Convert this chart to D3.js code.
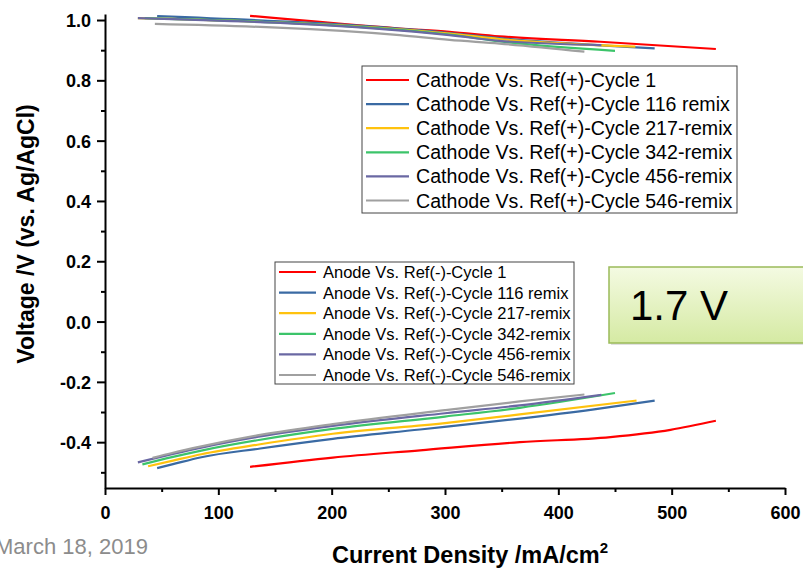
<!DOCTYPE html>
<html>
<head>
<meta charset="utf-8">
<script src="https://cdn.jsdelivr.net/npm/d3@7"></script>
<style>
  body { margin: 0; background: #fff; }
  svg { display: block; font-family: Arial, "Liberation Sans", sans-serif; }
</style>
</head>
<body>
<div id="chart"></div>
<script>
const width = 803, height = 569;

// series names / colours
const cycles = ["1", "116", "217", "342", "456", "546"];
const seriesColors = ["#ff0000", "#3a6aa3", "#ffc20e", "#3cc46a", "#6a68a3", "#a0a0a0"];
const cathodeNames = [
  "Cathode Vs. Ref(+)-Cycle 1",
  "Cathode Vs. Ref(+)-Cycle 116 remix",
  "Cathode Vs. Ref(+)-Cycle 217-remix",
  "Cathode Vs. Ref(+)-Cycle 342-remix",
  "Cathode Vs. Ref(+)-Cycle 456-remix",
  "Cathode Vs. Ref(+)-Cycle 546-remix"
];
const anodeNames = [
  "Anode Vs. Ref(-)-Cycle 1",
  "Anode Vs. Ref(-)-Cycle 116 remix",
  "Anode Vs. Ref(-)-Cycle 217-remix",
  "Anode Vs. Ref(-)-Cycle 342-remix",
  "Anode Vs. Ref(-)-Cycle 456-remix",
  "Anode Vs. Ref(-)-Cycle 546-remix"
];

// cathode curves: [current density, voltage]
const cathode1   = [[128, 1.014], [260, 0.972], [304, 0.961], [348, 0.946], [437, 0.928], [539, 0.904]];
const cathode116 = [[46, 1.013], [304, 0.957], [348, 0.940], [485, 0.906]];
const cathode217 = [[29, 1.006], [304, 0.955], [348, 0.937], [468, 0.912]];
const cathode342 = [[35, 1.006], [304, 0.952], [348, 0.929], [450, 0.898]];
const cathode456 = [[29, 1.006], [304, 0.950], [348, 0.931], [438, 0.917]];
const cathode546 = [[44, 0.987], [260, 0.950], [304, 0.934], [348, 0.922], [423, 0.895]];

// anode curves
const anode1   = [[128, -0.482], [201, -0.451], [278, -0.427], [366, -0.400], [446, -0.383], [499, -0.359], [539, -0.329]];
const anode116 = [[46, -0.486], [60, -0.473], [85, -0.450], [137, -0.421], [201, -0.389], [278, -0.358], [366, -0.322], [430, -0.292], [485, -0.262]];
const anode217 = [[38, -0.480], [60, -0.461], [85, -0.440], [137, -0.407], [201, -0.372], [300, -0.337], [366, -0.308], [469, -0.262]];
const anode342 = [[33, -0.474], [60, -0.449], [85, -0.428], [137, -0.392], [201, -0.356], [300, -0.315], [366, -0.286], [450, -0.237]];
const anode456 = [[29, -0.467], [60, -0.439], [85, -0.418], [137, -0.381], [201, -0.346], [300, -0.304], [366, -0.278], [438, -0.243]];
const anode546 = [[42, -0.452], [60, -0.435], [85, -0.414], [137, -0.376], [201, -0.340], [300, -0.294], [366, -0.265], [423, -0.242]];

const cathodeSeries = [cathode1, cathode116, cathode217, cathode342, cathode456, cathode546];
const anodeSeries = [anode1, anode116, anode217, anode342, anode456, anode546];

const xTicks = [0, 100, 200, 300, 400, 500, 600];
const xMinor = [50, 150, 250, 350, 450, 550];
const yTicks = [-0.4, -0.2, 0.0, 0.2, 0.4, 0.6, 0.8, 1.0];
const yMinor = [-0.5, -0.3, -0.1, 0.1, 0.3, 0.5, 0.7, 0.9];

const svg = d3.select("#chart")
  .append("svg")
    .attr("width", width)
    .attr("height", height);

const x = d3.scaleLinear().domain([0, 600]).range([105, 785]);
const y = d3.scaleLinear().domain([-0.552, 1.02]).range([488, 14]);

// axes
const xAxis = svg.append("g")
    .attr("transform", `translate(0, ${y.range()[0]})`)
    .call(d3.axisBottom(x).tickValues(xTicks).tickFormat(d3.format("d")).tickSize(7).tickSizeOuter(0));
svg.append("g")
    .attr("transform", `translate(0, ${y.range()[0]})`)
    .call(d3.axisBottom(x).tickValues(xMinor).tickFormat("").tickSize(4).tickSizeOuter(0))
    .select(".domain").remove();

const yAxis = svg.append("g")
    .attr("transform", `translate(${x.range()[0]}, 0)`)
    .call(d3.axisLeft(y).tickValues(yTicks)
      .tickFormat(d => d3.format(".1f")(d).replace("\u2212", "-"))
      .tickSize(8).tickSizeOuter(0));
svg.append("g")
    .attr("transform", `translate(${x.range()[0]}, 0)`)
    .call(d3.axisLeft(y).tickValues(yMinor).tickFormat("").tickSize(4).tickSizeOuter(0))
    .select(".domain").remove();

svg.selectAll(".domain").attr("stroke", "#000").attr("stroke-width", 2);
svg.selectAll(".tick line").attr("stroke", "#000").attr("stroke-width", 2);

xAxis.selectAll("text")
    .attr("dy", null)
    .attr("y", 31)
    .style("font-size", "18px")
    .style("font-weight", "bold")
    .attr("fill", "#000");
yAxis.selectAll("text")
    .attr("x", -14)
    .attr("dy", "0.36em")
    .style("font-size", "18px")
    .style("font-weight", "bold")
    .attr("fill", "#000");

// axis titles
svg.append("text")
    .attr("transform", `translate(34, 234) rotate(-90)`)
    .attr("text-anchor", "middle")
    .style("font-size", "23px")
    .style("font-weight", "bold")
    .text("Voltage /V (vs. Ag/AgCl)");

const xTitle = svg.append("text")
    .attr("x", 470)
    .attr("y", 563)
    .attr("text-anchor", "middle")
    .style("font-size", "23.5px")
    .style("font-weight", "bold");
xTitle.append("tspan").text("Current Density /mA/cm");
xTitle.append("tspan").attr("dy", -10).style("font-size", "15px").text("2");

// curves
const line = d3.line()
    .x(d => x(d[0]))
    .y(d => y(d[1]))
    .curve(d3.curveMonotoneX);

const plot = svg.append("g");
[...anodeSeries, ...cathodeSeries].forEach((s, i) => {
  plot.append("path")
      .datum(s)
      .attr("d", line)
      .attr("fill", "none")
      .attr("stroke", seriesColors[i % 6])
      .attr("stroke-width", 2.2);
});

// legends
const drawLegend = (names, box, rowGap, fontSize, lineLen) => {
  const g = svg.append("g").attr("transform", `translate(${box.x}, ${box.y})`);
  g.append("rect")
      .attr("width", box.w)
      .attr("height", box.h)
      .attr("fill", "#fff")
      .attr("stroke", "#444")
      .attr("stroke-width", 1);
  names.forEach((name, i) => {
    const ry = box.top + i * rowGap;
    g.append("line")
        .attr("x1", 4).attr("x2", 4 + lineLen)
        .attr("y1", ry).attr("y2", ry)
        .attr("stroke", seriesColors[i])
        .attr("stroke-width", 2.2);
    g.append("text")
        .attr("x", 4 + lineLen + 7)
        .attr("y", ry)
        .attr("dy", "0.36em")
        .style("font-size", fontSize + "px")
        .attr("fill", "#000")
        .text(name);
  });
};

drawLegend(cathodeNames, {x: 362, y: 66, w: 375, h: 147, top: 14}, 24.1, 19.6, 43);
drawLegend(anodeNames, {x: 275, y: 262, w: 299, h: 122, top: 10}, 20.6, 16.5, 37);

// 1.7 V callout
const defs = svg.append("defs");
const grad = defs.append("linearGradient")
    .attr("id", "boxfill")
    .attr("x1", 0).attr("y1", 0).attr("x2", 0).attr("y2", 1);
grad.append("stop").attr("offset", "0%").attr("stop-color", "#f4fae2");
grad.append("stop").attr("offset", "100%").attr("stop-color", "#d5eaa3");

svg.append("rect")
    .attr("x", 611).attr("y", 269)
    .attr("width", 200).attr("height", 76)
    .attr("fill", "#e0e0e0");
svg.append("rect")
    .attr("x", 609).attr("y", 267)
    .attr("width", 200).attr("height", 76)
    .attr("fill", "url(#boxfill)")
    .attr("stroke", "#9bbb59")
    .attr("stroke-width", 1.5);
svg.append("text")
    .attr("x", 630)
    .attr("y", 320)
    .style("font-size", "42px")
    .attr("fill", "#000")
    .text("1.7 V");

// date footer
svg.append("text")
    .attr("x", -5)
    .attr("y", 554)
    .style("font-size", "22px")
    .attr("fill", "#8c8c8c")
    .text("March 18, 2019");
</script>
</body>
</html>
